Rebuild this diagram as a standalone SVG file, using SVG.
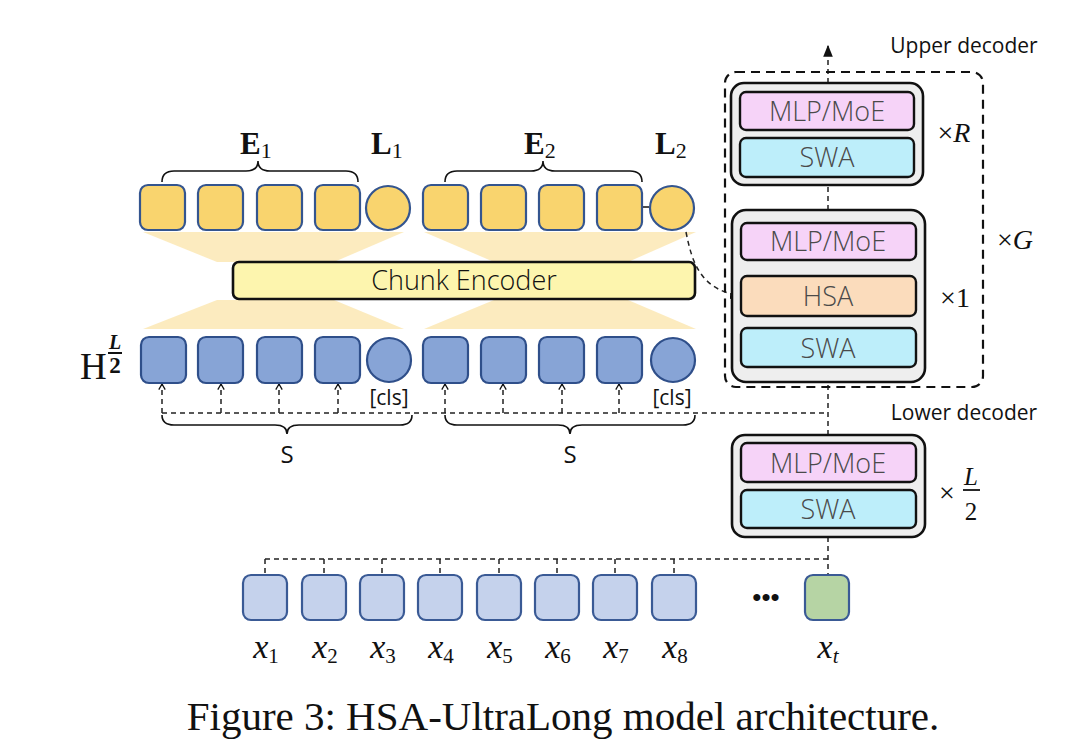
<svg xmlns="http://www.w3.org/2000/svg" width="1080" height="756" viewBox="0 0 1080 756">
<style>
.yb{fill:#f9d46e;stroke:#34558f;stroke-width:2.2}
.hb{fill:#87a4d6;stroke:#2f4f8a;stroke-width:2.2}
.xb{fill:#c5d2ec;stroke:#3a5a95;stroke-width:2.2}
.gb{fill:#b6d4a4;stroke:#3a5a95;stroke-width:2.2}
.trap{fill:#fce7b4;opacity:0.85}
.outer{fill:#eeeeee;stroke:#111;stroke-width:2.6}
.mlp{fill:#f6d3f8;stroke:#111;stroke-width:2.4}
.swa{fill:#bdeefa;stroke:#111;stroke-width:2.4}
.hsa{fill:#fbdcbc;stroke:#111;stroke-width:2.4}
.lbl{font-family:"Open Sans","Noto Sans",sans-serif;font-weight:300;fill:#4a4a4a;font-size:27px;text-anchor:middle}
.sans{font-family:"Open Sans","Noto Sans",sans-serif;fill:#111}
.serif{font-family:"Liberation Serif",serif;fill:#111}
.dash{fill:none;stroke:#222;stroke-width:1.5;stroke-dasharray:5,4}
.brace{fill:none;stroke:#111;stroke-width:1.6}
</style>
<defs>
<marker id="open" viewBox="0 0 10 10" refX="9" refY="5" markerWidth="8" markerHeight="8" markerUnits="userSpaceOnUse" orient="auto">
<path d="M2,1 L9,5 L2,9" fill="none" stroke="#111" stroke-width="1.6"/>
</marker>
<marker id="fill" viewBox="0 0 10 10" refX="9" refY="5" markerWidth="12" markerHeight="12" markerUnits="userSpaceOnUse" orient="auto">
<path d="M0,1 L10,5 L0,9 z" fill="#111"/>
</marker>
</defs>

<g id="trapezoids">
<polygon class="trap" points="143,232 404,232 334,262 217,262"/>
<polygon class="trap" points="424,232 696,232 628,262 494,262"/>
<polygon class="trap" points="217,300 334,300 404,329 143,329"/>
<polygon class="trap" points="494,300 628,300 696,329 424,329"/>
</g>

<g id="connectors">
<path class="dash" d="M162,413 H828"/>
<path class="dash" d="M162,413 V384" marker-end="url(#open)"/>
<path class="dash" d="M221,413 V384" marker-end="url(#open)"/>
<path class="dash" d="M279,413 V384" marker-end="url(#open)"/>
<path class="dash" d="M338,413 V384" marker-end="url(#open)"/>
<path class="dash" d="M445,413 V384" marker-end="url(#open)"/>
<path class="dash" d="M503,413 V384" marker-end="url(#open)"/>
<path class="dash" d="M562,413 V384" marker-end="url(#open)"/>
<path class="dash" d="M619,413 V384" marker-end="url(#open)"/>
<path class="dash" d="M828,435 V382"/>
<path class="dash" d="M828,210 V185"/>
<path class="dash" d="M828,83 V46" marker-end="url(#fill)"/>
<path class="dash" d="M828,537 V575"/>
<path class="dash" d="M265,559 H828"/>
<path class="dash" d="M265,559 V575"/>
<path class="dash" d="M324,559 V575"/>
<path class="dash" d="M382,559 V575"/>
<path class="dash" d="M440,559 V575"/>
<path class="dash" d="M499,559 V575"/>
<path class="dash" d="M557,559 V575"/>
<path class="dash" d="M615,559 V575"/>
<path class="dash" d="M674,559 V575"/>
<path class="dash" d="M686,232 C692,262 700,290 741,296" marker-end="url(#fill)"/>
<path d="M641,207 H649" stroke="#111" stroke-width="1.5"/>
</g>

<g id="top-row">
<rect class="yb" x="140" y="185" width="45" height="45" rx="8"/>
<rect class="yb" x="198" y="185" width="45" height="45" rx="8"/>
<rect class="yb" x="257" y="185" width="45" height="45" rx="8"/>
<rect class="yb" x="315" y="185" width="45" height="45" rx="8"/>
<circle class="yb" cx="388" cy="208" r="22"/>
<rect class="yb" x="423" y="185" width="45" height="45" rx="8"/>
<rect class="yb" x="481" y="185" width="45" height="45" rx="8"/>
<rect class="yb" x="539" y="185" width="45" height="45" rx="8"/>
<rect class="yb" x="597" y="185" width="45" height="45" rx="8"/>
<circle class="yb" cx="672" cy="208" r="22"/>
</g>

<g id="labels-top">
<path class="brace" d="M162,182 Q162,171 174,171 L246,171 Q258,171 258,161 Q258,171 270,171 L346,171 Q358,171 358,182"/>
<path class="brace" d="M445,182 Q445,171 457,171 L531,171 Q543,171 543,161 Q543,171 555,171 L630,171 Q642,171 642,182"/>
<text class="serif" x="240" y="154" font-size="31" font-weight="bold">E<tspan font-weight="normal" font-size="22" dy="4">1</tspan></text>
<text class="serif" x="371" y="154" font-size="31" font-weight="bold">L<tspan font-weight="normal" font-size="22" dy="4">1</tspan></text>
<text class="serif" x="524" y="154" font-size="31" font-weight="bold">E<tspan font-weight="normal" font-size="22" dy="4">2</tspan></text>
<text class="serif" x="655" y="154" font-size="31" font-weight="bold">L<tspan font-weight="normal" font-size="22" dy="4">2</tspan></text>
</g>

<g id="chunk-encoder">
<rect x="233" y="262" width="462" height="37" rx="6" fill="#fdf5ae" stroke="#111" stroke-width="2.6"/>
<text class="sans" x="464" y="290" font-size="27" font-weight="300" text-anchor="middle" fill="#222">Chunk Encoder</text>
</g>

<g id="h-row">
<rect class="hb" x="141" y="337" width="45" height="46" rx="8"/>
<rect class="hb" x="198" y="337" width="45" height="46" rx="8"/>
<rect class="hb" x="257" y="337" width="45" height="46" rx="8"/>
<rect class="hb" x="315" y="337" width="45" height="46" rx="8"/>
<circle class="hb" cx="389" cy="360" r="22"/>
<rect class="hb" x="423" y="337" width="45" height="46" rx="8"/>
<rect class="hb" x="481" y="337" width="45" height="46" rx="8"/>
<rect class="hb" x="539" y="337" width="45" height="46" rx="8"/>
<rect class="hb" x="597" y="337" width="45" height="46" rx="8"/>
<circle class="hb" cx="673" cy="360" r="22"/>
</g>

<g id="h-labels">
<text class="serif" x="80" y="379" font-size="37">H</text>
<text class="serif" x="115" y="349" font-size="20" font-style="italic" font-weight="bold" text-anchor="middle">L</text>
<line x1="108" y1="353" x2="122" y2="353" stroke="#111" stroke-width="2"/>
<text class="serif" x="115" y="373" font-size="23" font-weight="bold" text-anchor="middle">2</text>
<text class="sans" x="389" y="405" font-size="21" text-anchor="middle">[cls]</text>
<text class="sans" x="672" y="405" font-size="21" text-anchor="middle">[cls]</text>
<path class="brace" d="M162,415 Q162,425 174,425 L275,425 Q287,425 287,434 Q287,425 299,425 L400,425 Q412,425 412,415"/>
<path class="brace" d="M445,415 Q445,425 457,425 L558,425 Q570,425 570,434 Q570,425 582,425 L683,425 Q695,425 695,415"/>
<text class="sans" x="287" y="463" font-size="24" text-anchor="middle">S</text>
<text class="sans" x="570" y="463" font-size="24" text-anchor="middle">S</text>
</g>

<g id="upper-decoder">
<rect x="725" y="72" width="258" height="315" rx="11" fill="none" stroke="#111" stroke-width="2.2" stroke-dasharray="9,6"/>
<text class="sans" x="964" y="53" font-size="21" text-anchor="middle">Upper decoder</text>
<text class="serif" x="1015" y="249" font-size="28" text-anchor="middle">×<tspan font-style="italic">G</tspan></text>
</g>

<g id="r-block">
<rect class="outer" x="731" y="83" width="192" height="102" rx="13"/>
<rect class="mlp" x="740" y="92" width="174" height="38" rx="6"/>
<text class="lbl" x="827" y="121">MLP/MoE</text>
<rect class="swa" x="740" y="138" width="174" height="39" rx="6"/>
<text class="lbl" x="827" y="167">SWA</text>
<text class="serif" x="954" y="142" font-size="28" text-anchor="middle">×<tspan font-style="italic">R</tspan></text>
</g>

<g id="g-block">
<rect class="outer" x="732" y="210" width="193" height="172" rx="14"/>
<rect class="mlp" x="741" y="223" width="175" height="37" rx="6"/>
<text class="lbl" x="828" y="251">MLP/MoE</text>
<rect class="hsa" x="741" y="276" width="175" height="40" rx="6"/>
<text class="lbl" x="828" y="306">HSA</text>
<rect class="swa" x="741" y="328" width="175" height="39" rx="6"/>
<text class="lbl" x="828" y="358">SWA</text>
<text class="serif" x="955" y="307" font-size="28" text-anchor="middle">×1</text>
</g>

<g id="lower-decoder">
<text class="sans" x="964" y="420" font-size="21" text-anchor="middle">Lower decoder</text>
<rect class="outer" x="732" y="435" width="193" height="102" rx="13"/>
<rect class="mlp" x="741" y="443" width="175" height="39" rx="6"/>
<text class="lbl" x="828" y="473">MLP/MoE</text>
<rect class="swa" x="741" y="490" width="175" height="38" rx="6"/>
<text class="lbl" x="828" y="519">SWA</text>
<text class="serif" x="947" y="502" font-size="28" text-anchor="middle">×</text>
<text class="serif" x="971" y="485" font-size="25" font-style="italic" text-anchor="middle">L</text>
<line x1="963" y1="490" x2="980" y2="490" stroke="#111" stroke-width="1.8"/>
<text class="serif" x="971" y="520" font-size="25" text-anchor="middle">2</text>
</g>

<g id="inputs">
<rect class="xb" x="243" y="575" width="44" height="45" rx="8"/>
<rect class="xb" x="302" y="575" width="44" height="45" rx="8"/>
<rect class="xb" x="360" y="575" width="44" height="45" rx="8"/>
<rect class="xb" x="418" y="575" width="44" height="45" rx="8"/>
<rect class="xb" x="477" y="575" width="44" height="45" rx="8"/>
<rect class="xb" x="535" y="575" width="44" height="45" rx="8"/>
<rect class="xb" x="593" y="575" width="44" height="45" rx="8"/>
<rect class="xb" x="652" y="575" width="44" height="45" rx="8"/>
<rect class="gb" x="805" y="575" width="44" height="45" rx="8"/>
<text class="serif" x="766" y="606" font-size="26" font-weight="bold" text-anchor="middle">•••</text>
</g>

<g id="input-labels">
<text class="serif" x="266" y="658" font-size="34" font-style="italic" text-anchor="middle">x<tspan font-style="normal" font-size="21" dy="5">1</tspan></text>
<text class="serif" x="325" y="658" font-size="34" font-style="italic" text-anchor="middle">x<tspan font-style="normal" font-size="21" dy="5">2</tspan></text>
<text class="serif" x="383" y="658" font-size="34" font-style="italic" text-anchor="middle">x<tspan font-style="normal" font-size="21" dy="5">3</tspan></text>
<text class="serif" x="441" y="658" font-size="34" font-style="italic" text-anchor="middle">x<tspan font-style="normal" font-size="21" dy="5">4</tspan></text>
<text class="serif" x="500" y="658" font-size="34" font-style="italic" text-anchor="middle">x<tspan font-style="normal" font-size="21" dy="5">5</tspan></text>
<text class="serif" x="558" y="658" font-size="34" font-style="italic" text-anchor="middle">x<tspan font-style="normal" font-size="21" dy="5">6</tspan></text>
<text class="serif" x="616" y="658" font-size="34" font-style="italic" text-anchor="middle">x<tspan font-style="normal" font-size="21" dy="5">7</tspan></text>
<text class="serif" x="675" y="658" font-size="34" font-style="italic" text-anchor="middle">x<tspan font-style="normal" font-size="21" dy="5">8</tspan></text>
<text class="serif" x="828" y="658" font-size="34" font-style="italic" text-anchor="middle">x<tspan font-size="21" dy="5">t</tspan></text>
</g>

<text class="serif" x="563" y="730" font-size="41" text-anchor="middle">Figure 3: HSA-UltraLong model architecture.</text>
</svg>
